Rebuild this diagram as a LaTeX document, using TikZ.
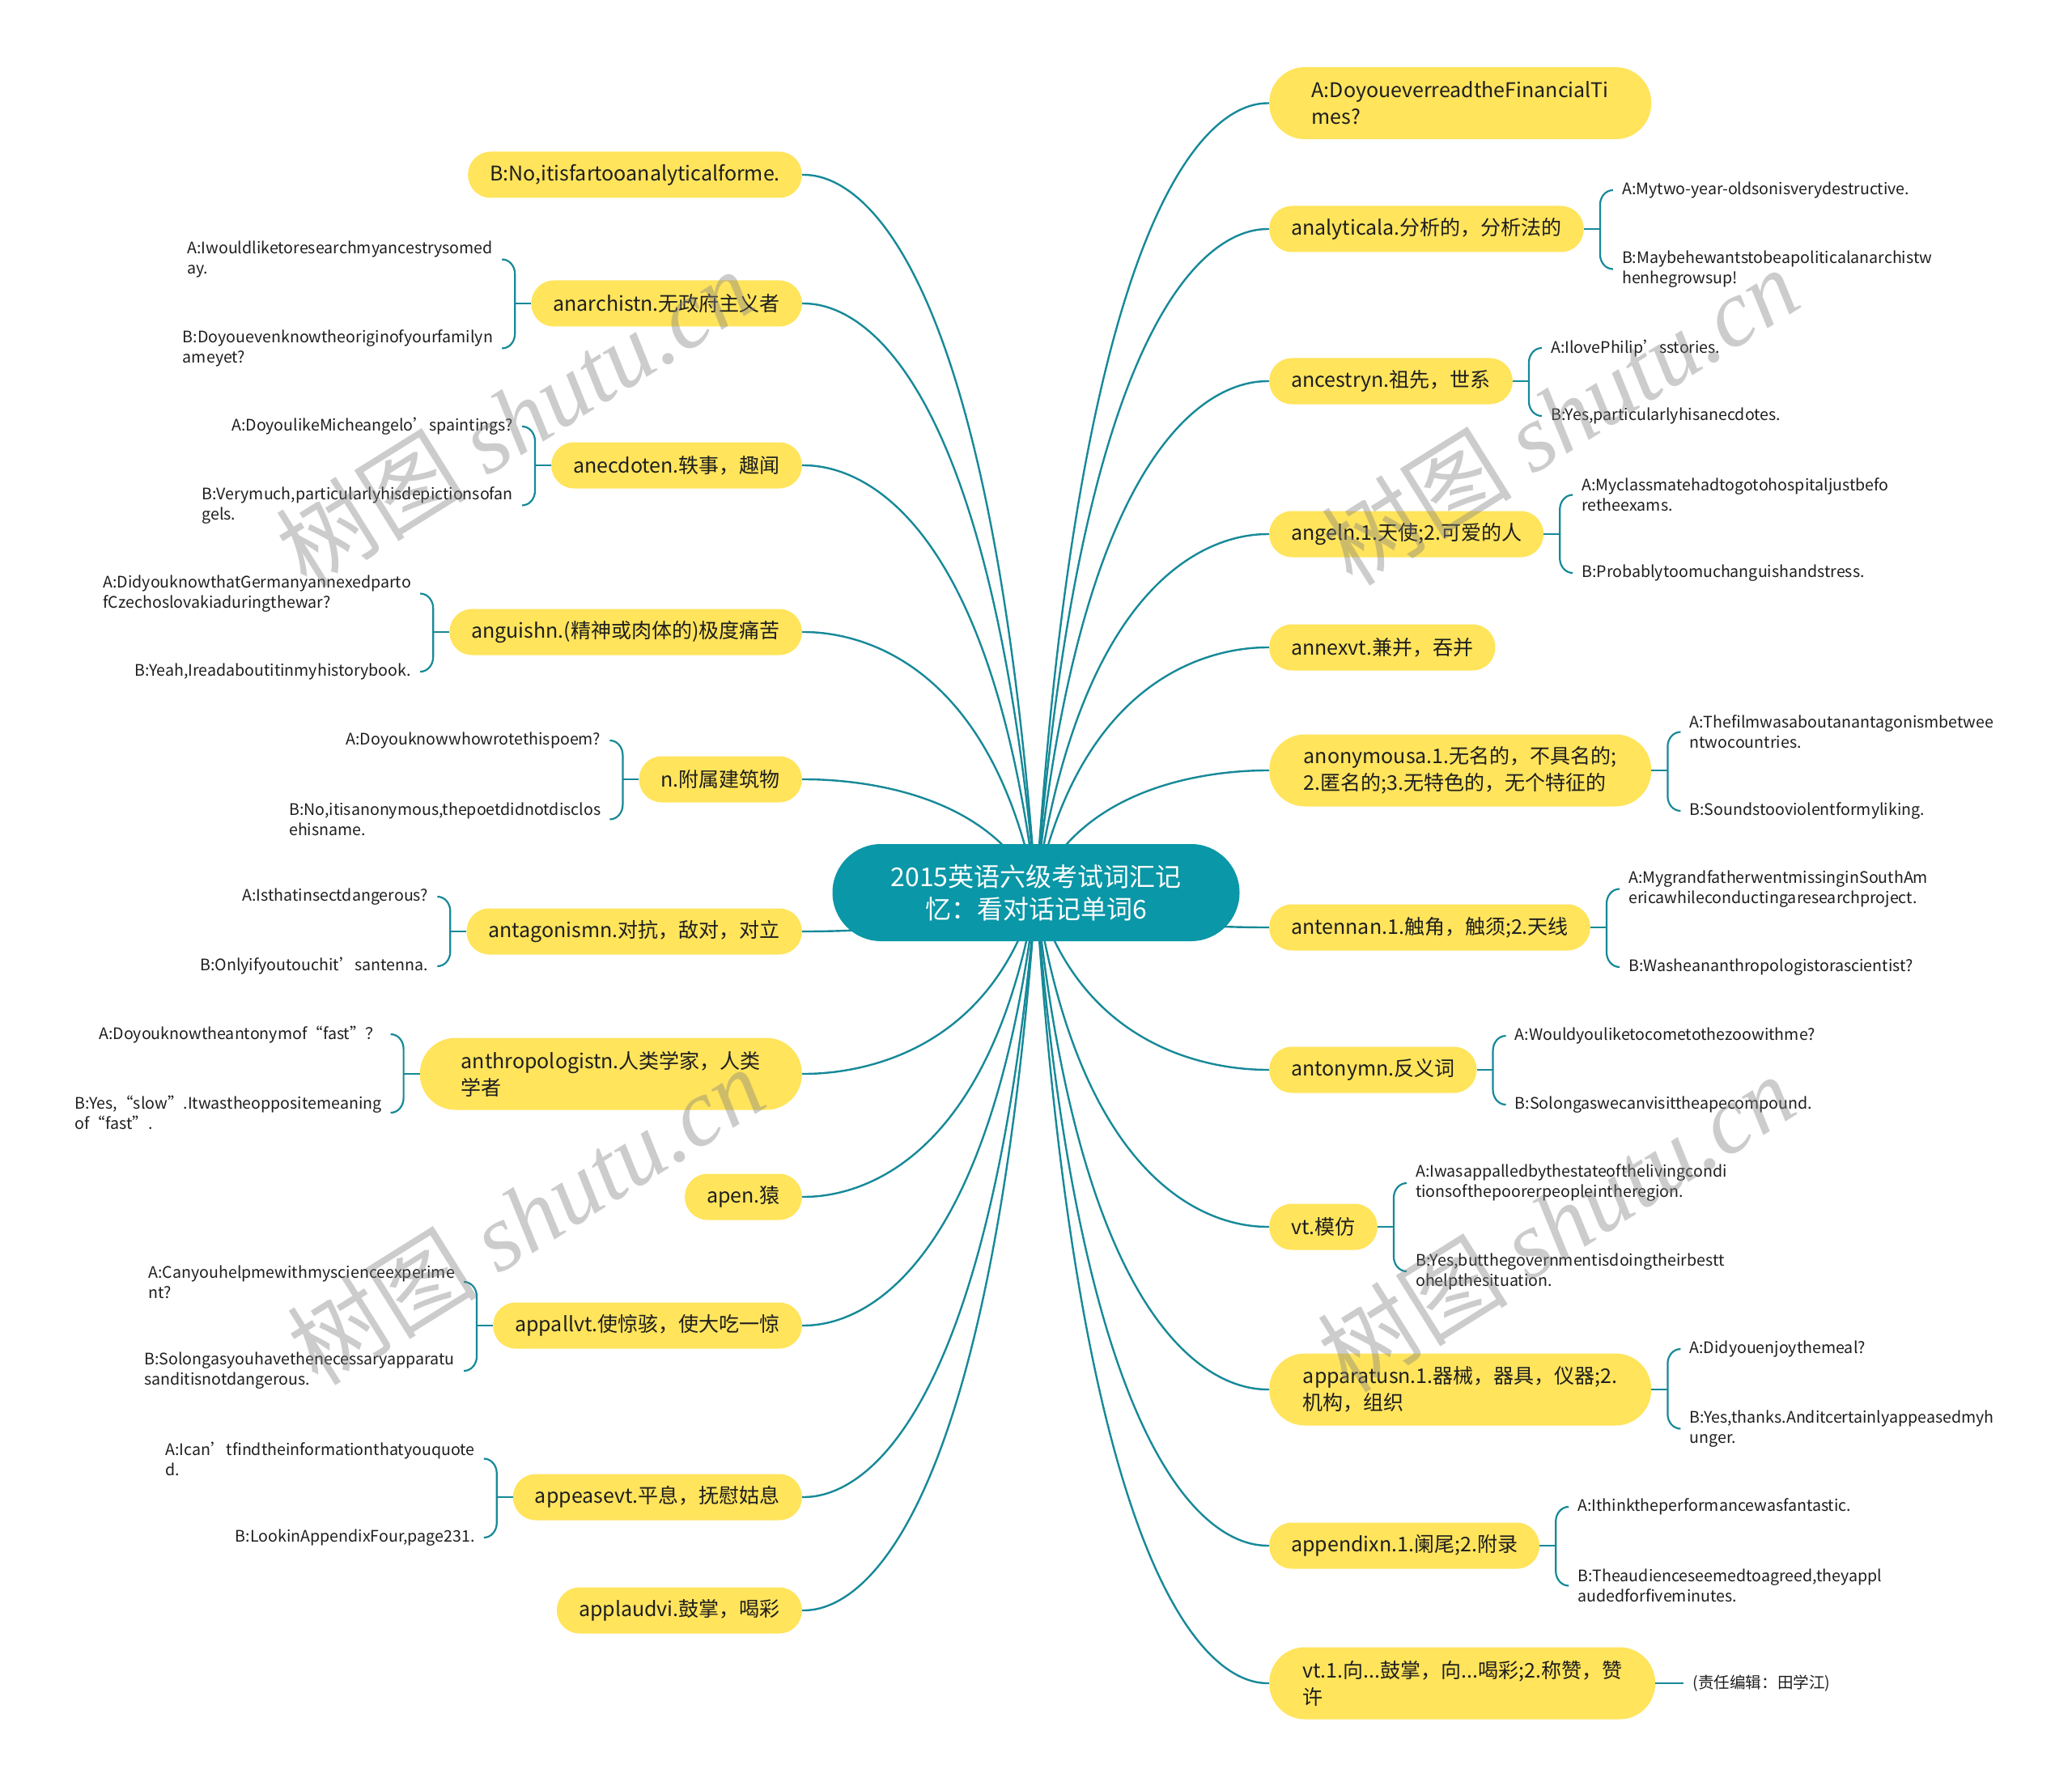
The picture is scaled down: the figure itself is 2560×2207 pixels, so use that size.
\documentclass[tikz,border=0pt]{standalone}
\usepackage{fontspec}
\setmainfont{Noto Sans CJK SC}
\newfontfamily\wmlatin{Liberation Serif}
\usetikzlibrary{calc}
\usetikzlibrary{positioning}
\usetikzlibrary{backgrounds}

\definecolor{hubfill}{RGB}{10,151,167}
\definecolor{limbc}{RGB}{22,137,152}
\definecolor{topicfill}{RGB}{255,228,92}
\definecolor{inkc}{RGB}{30,30,30}

% stub, spine and hooks of a question/answer pair
\newcommand{\qpairR}[1]{%
  \coordinate (#1s) at ($(#1.east)+(20,0)$);
  \draw[brace] (#1.east) -- (#1s);
  \draw[brace] ($(#1s |- #1a.west)+(16,0)$) to[out=180,in=90] ($(#1s |- #1a.west)+(0,-18)$)
    -- ($(#1s |- #1b.west)+(0,18)$) to[out=-90,in=180] ($(#1s |- #1b.west)+(16,0)$);
}
\newcommand{\qpairL}[1]{%
  \coordinate (#1s) at ($(#1.west)+(-20,0)$);
  \draw[brace] (#1.west) -- (#1s);
  \draw[brace] ($(#1s |- #1a.east)+(-16,0)$) to[out=0,in=90] ($(#1s |- #1a.east)+(0,-18)$)
    -- ($(#1s |- #1b.east)+(0,18)$) to[out=-90,in=0] ($(#1s |- #1b.east)+(-16,0)$);
}

\begin{document}
\begin{tikzpicture}[x=1pt,y=1pt,
    hubnode/.style={fill=hubfill, text=white, rounded corners=60pt, minimum width=503pt,
      minimum height=120pt, align=center, font=\fontsize{32pt}{40pt}\selectfont},
    topic/.style={fill=topicfill, text=inkc, rounded corners=28pt, minimum height=57pt,
      inner xsep=27pt, inner ysep=0pt, font=\fontsize{25pt}{33pt}\selectfont},
    topic2/.style={topic, rounded corners=44pt, minimum height=89pt, minimum width=472pt,
      inner xsep=41pt, align=left},
    qa/.style={text=inkc, inner sep=0pt, align=left, font=\fontsize{19.6pt}{25pt}\selectfont},
    limb/.style={draw=limbc, line width=2.4pt},
    brace/.style={draw=limbc, line width=2.2pt},
    wmark/.style={text=gray, opacity=0.4, rotate=32, font=\fontsize{118pt}{118pt}\selectfont}]

  \useasboundingbox (0,0) rectangle (2560,-2207);

  % Centre
  \node[hubnode] (hub) at (1280,-1103) {2015英语六级考试词汇记\\忆：看对话记单词6};

  % Left topics
  \node[topic, anchor=east] (l1) at (991,-216) {B:No,itisfartooanalyticalforme.};
  \node[topic, anchor=east] (l2) at (991,-375) {anarchistn.无政府主义者};
  \node[topic, anchor=east] (l3) at (991,-575) {anecdoten.轶事，趣闻};
  \node[topic, anchor=east] (l4) at (991,-781) {anguishn.(精神或肉体的)极度痛苦};
  \node[topic, anchor=east] (l5) at (991,-963) {n.附属建筑物};
  \node[topic, anchor=east] (l6) at (991,-1151) {antagonismn.对抗，敌对，对立};
  \node[topic2, anchor=east] (l7) at (991,-1327) {anthropologistn.人类学家，人类\\学者};
  \node[topic, anchor=east] (l8) at (991,-1479) {apen.猿};
  \node[topic, anchor=east] (l9) at (991,-1638) {appallvt.使惊骇，使大吃一惊};
  \node[topic, anchor=east] (l10) at (991,-1850) {appeasevt.平息，抚慰姑息};
  \node[topic, anchor=east] (l11) at (991,-1990) {applaudvi.鼓掌，喝彩};

  % Right topics
  \node[topic2, anchor=west] (r1) at (1568,-127.5) {A:DoyoueverreadtheFinancialTi\\mes?};
  \node[topic, anchor=west] (r2) at (1568,-283) {analyticala.分析的，分析法的};
  \node[topic, anchor=west] (r3) at (1568,-471) {ancestryn.祖先，世系};
  \node[topic, anchor=west] (r4) at (1568,-660) {angeln.1.天使;2.可爱的人};
  \node[topic, anchor=west] (r5) at (1568,-800) {annexvt.兼并，吞并};
  \node[topic2, anchor=west] (r6) at (1568,-952) {anonymousa.1.无名的，不具名的;\\2.匿名的;3.无特色的，无个特征的};
  \node[topic, anchor=west] (r7) at (1568,-1146) {antennan.1.触角，触须;2.天线};
  \node[topic, anchor=west] (r8) at (1568,-1322) {antonymn.反义词};
  \node[topic, anchor=west] (r9) at (1568,-1516) {vt.模仿};
  \node[topic2, anchor=west] (r10) at (1568,-1717) {apparatusn.1.器械，器具，仪器;2.\\机构，组织};
  \node[topic, anchor=west] (r11) at (1568,-1910) {appendixn.1.阑尾;2.附录};
  \node[topic2, anchor=west] (r12) at (1568,-2080) {vt.1.向...鼓掌，向...喝彩;2.称赞，赞\\许};

  % Branches from the centre
  \begin{scope}[on background layer]
    \foreach \t in {l1.east,l2.east,l3.east,l4.east,l5.east,l6.east,l7.east,l8.east,l9.east,l10.east,l11.east,
                    r1.west,r2.west,r3.west,r4.west,r5.west,r6.west,r7.west,r8.west,r9.west,r10.west,r11.west,r12.west}
      \draw[limb] let \p1=(hub), \p2=(\t) in
        (\p1) .. controls ({\x1+0.22*(\x2-\x1)},\y2) and ({\x1+0.9*(\x2-\x1)},\y2) .. (\p2);
  \end{scope}

  % Left dialogues
  \node[qa, left=47pt of l2, yshift=54.5pt] (l2a) {A:Iwouldliketoresearchmyancestrysomed\\ay.};
  \node[qa, left=47pt of l2, yshift=-55.5pt] (l2b) {B:Doyouevenknowtheoriginofyourfamilyn\\ameyet?};
  \node[qa, left=47pt of l3, yshift=48pt] (l3a) {A:DoyoulikeMicheangelo’spaintings?};
  \node[qa, left=47pt of l3, yshift=-49.5pt] (l3b) {B:Verymuch,particularlyhisdepictionsofan\\gels.};
  \node[qa, left=47pt of l4, yshift=47.5pt] (l4a) {A:DidyouknowthatGermanyannexedparto\\fCzechoslovakiaduringthewar?};
  \node[qa, left=47pt of l4, yshift=-49pt] (l4b) {B:Yeah,Ireadaboutitinmyhistorybook.};
  \node[qa, left=47pt of l5, yshift=48pt] (l5a) {A:Doyouknowwhowrotethispoem?};
  \node[qa, left=47pt of l5, yshift=-49.5pt] (l5b) {B:No,itisanonymous,thepoetdidnotdisclos\\ehisname.};
  \node[qa, left=47pt of l6, yshift=43pt] (l6a) {A:Isthatinsectdangerous?};
  \node[qa, left=47pt of l6, yshift=-43pt] (l6b) {B:Onlyifyoutouchit’santenna.};
  \node[qa, left=47pt of l7, yshift=49pt] (l7a) {A:Doyouknowtheantonymof“fast”？};
  \node[qa, left=47pt of l7, yshift=-48pt] (l7b) {B:Yes,“slow”.Itwastheoppositemeaning\\of“fast”.};
  \node[qa, left=47pt of l9, yshift=54pt] (l9a) {A:Canyouhelpmewithmyscienceexperime\\nt?};
  \node[qa, left=47pt of l9, yshift=-56pt] (l9b) {B:Solongasyouhavethenecessaryapparatu\\sanditisnotdangerous.};
  \node[qa, left=47pt of l10, yshift=47.5pt] (l10a) {A:Ican’tfindtheinformationthatyouquote\\d.};
  \node[qa, left=47pt of l10, yshift=-50pt] (l10b) {B:LookinAppendixFour,page231.};
  \foreach \n in {l2,l3,l4,l5,l6,l7,l9,l10} {\qpairL{\n}}

  % Right dialogues
  \node[qa, right=47pt of r2, yshift=48pt] (r2a) {A:Mytwo-year-oldsonisverydestructive.};
  \node[qa, right=47pt of r2, yshift=-49.5pt] (r2b) {B:Maybehewantstobeapoliticalanarchistw\\henhegrowsup!};
  \node[qa, right=47pt of r3, yshift=41pt] (r3a) {A:IlovePhilip’sstories.};
  \node[qa, right=47pt of r3, yshift=-43pt] (r3b) {B:Yes,particularlyhisanecdotes.};
  \node[qa, right=47pt of r4, yshift=48.5pt] (r4a) {A:Myclassmatehadtogotohospitaljustbefo\\retheexams.};
  \node[qa, right=47pt of r4, yshift=-48pt] (r4b) {B:Probablytoomuchanguishandstress.};
  \node[qa, right=47pt of r6, yshift=47.5pt] (r6a) {A:Thefilmwasaboutanantagonismbetwee\\ntwocountries.};
  \node[qa, right=47pt of r6, yshift=-50pt] (r6b) {B:Soundstooviolentformyliking.};
  \node[qa, right=47pt of r7, yshift=47.5pt] (r7a) {A:MygrandfatherwentmissinginSouthAm\\ericawhileconductingaresearchproject.};
  \node[qa, right=47pt of r7, yshift=-49pt] (r7b) {B:Washeananthropologistorascientist?};
  \node[qa, right=47pt of r8, yshift=42pt] (r8a) {A:Wouldyouliketocometothezoowithme?};
  \node[qa, right=47pt of r8, yshift=-43pt] (r8b) {B:Solongaswecanvisittheapecompound.};
  \node[qa, right=47pt of r9, yshift=54pt] (r9a) {A:Iwasappalledbythestateofthelivingcondi\\tionsofthepoorerpeopleintheregion.};
  \node[qa, right=47pt of r9, yshift=-55pt] (r9b) {B:Yes,butthegovernmentisdoingtheirbestt\\ohelpthesituation.};
  \node[qa, right=47pt of r10, yshift=50pt] (r10a) {A:Didyouenjoythemeal?};
  \node[qa, right=47pt of r10, yshift=-48.5pt] (r10b) {B:Yes,thanks.Anditcertainlyappeasedmyh\\unger.};
  \node[qa, right=47pt of r11, yshift=48pt] (r11a) {A:Ithinktheperformancewasfantastic.};
  \node[qa, right=47pt of r11, yshift=-49.5pt] (r11b) {B:Theaudienceseemedtoagreed,theyappl\\audedforfiveminutes.};
  \foreach \n in {r2,r3,r4,r6,r7,r8,r9,r10,r11} {\qpairR{\n}}

  % Editor note
  \node[qa, inner xsep=11pt, right=35pt of r12] (r12n) {(责任编辑：田学江)};
  \draw[brace] (r12.east) -- (r12n.west);

  % Watermarks
  \node[wmark] (wm1) at (635,-516) {树图 {\wmlatin\itshape shutu.cn}};
  \node[wmark] (wm2) at (1927,-514) {树图 {\wmlatin\itshape shutu.cn}};
  \node[wmark] (wm3) at (649,-1502) {树图 {\wmlatin\itshape shutu.cn}};
  \node[wmark] (wm4) at (1922,-1511) {树图 {\wmlatin\itshape shutu.cn}};
\end{tikzpicture}
\end{document}
